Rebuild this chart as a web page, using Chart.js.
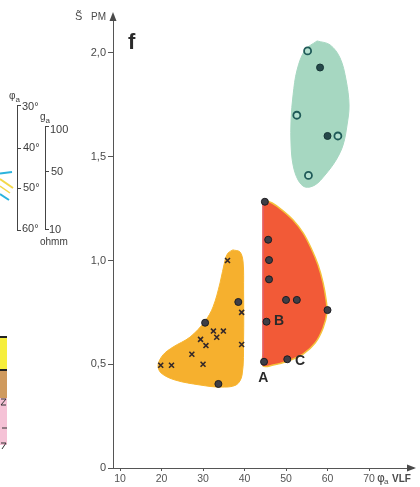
<!DOCTYPE html>
<html>
<head>
<meta charset="utf-8">
<script src="https://cdn.jsdelivr.net/npm/chart.js@4.4.1/dist/chart.umd.min.js"></script>
<style>
  html, body { margin: 0; padding: 0; background: #fff; }
  #wrap { position: relative; width: 420px; height: 487px; overflow: hidden;
          font-family: "Liberation Sans", Arial, sans-serif; color: #3c3c3c; }
  #wrap canvas { position: absolute; left: 0; top: 0; }
  .t { position: absolute; font-size: 11px; line-height: 11px; white-space: nowrap; }
  .t sub { font-size: 8px; vertical-align: -3px; }
  .br { position: absolute; width: 3px; border: 1px solid #444; border-right: none; }
  .tk { position: absolute; width: 3px; height: 0; border-top: 1px solid #444; }
  svg.side { position: absolute; left: 0; top: 0; }
</style>
</head>
<body>
<div id="wrap">
  <canvas id="chart" width="420" height="487"></canvas>

  <!-- bits of the neighbouring figure cut off on the left -->
  <svg class="side" width="60" height="487">
    <line x1="0" y1="173.5" x2="12" y2="172" stroke="#2bb3dd" stroke-width="2"/>
    <line x1="0" y1="179" x2="13" y2="188" stroke="#f3d84a" stroke-width="2"/>
    <line x1="0" y1="186" x2="10" y2="193" stroke="#f3d84a" stroke-width="1.5"/>
    <line x1="0" y1="194" x2="9" y2="200" stroke="#2bb3dd" stroke-width="2"/>
    <rect x="0" y="337" width="7" height="33" fill="#f6ee3c"/>
    <rect x="0" y="370" width="7" height="28" fill="#cf9a5e"/>
    <rect x="0" y="398" width="7" height="47" fill="#f5c2d6"/>
    <rect x="0" y="336" width="7" height="2" fill="#222"/>
    <rect x="0" y="369" width="7" height="2" fill="#222"/>
    <path d="M1 399 L6 399 L1 405 L6 405" stroke="#333" fill="none" stroke-width="1"/>
    <line x1="2" y1="428" x2="7" y2="428" stroke="#333" stroke-width="1"/>
    <path d="M1 443 L6 443 L2 449" stroke="#333" fill="none" stroke-width="1"/>
  </svg>
  <div class="t" style="left:9px; top:90px; font-size:10px;">φ<sub>a</sub></div>
  <div class="br" style="left:17px; top:105px; height:124px;"></div>
  <div class="tk" style="left:18px; top:148px;"></div>
  <div class="tk" style="left:18px; top:188px;"></div>
  <div class="t" style="left:22px; top:101px;">30°</div>
  <div class="t" style="left:23px; top:142px;">40°</div>
  <div class="t" style="left:23px; top:182px;">50°</div>
  <div class="t" style="left:22px; top:223px;">60°</div>
  <div class="t" style="left:40px; top:111px; font-size:10px;">g<sub>a</sub></div>
  <div class="br" style="left:45px; top:126px; height:102px;"></div>
  <div class="tk" style="left:46px; top:171px;"></div>
  <div class="t" style="left:50px; top:124px;">100</div>
  <div class="t" style="left:51px; top:166px;">50</div>
  <div class="t" style="left:49px; top:224px;">10</div>
  <div class="t" style="left:40px; top:236px; font-size:10px;">ohmm</div>
</div>

<script>
// axis ticks
const xTicks = [10, 20, 30, 40, 50, 60, 70];
const yTicks = [0, 0.5, 1.0, 1.5, 2.0];

// yellow field: crosses and dots
const yellowCrossX = [35.9, 39.3, 32.5, 34.9, 29.4, 33.3, 30.7, 39.3, 27.3, 19.8, 22.4, 30.0];
const yellowCrossY = [1.00, 0.75, 0.66, 0.66, 0.62, 0.63, 0.59, 0.595, 0.548, 0.495, 0.495, 0.50];
const yellowDotX = [38.5, 30.5, 33.7];
const yellowDotY = [0.80, 0.70, 0.405];

// red field
const redDotX = [44.9, 45.7, 45.9, 45.9, 50.0, 52.6, 60.0, 45.3, 44.7, 50.3];
const redDotY = [1.283, 1.10, 1.002, 0.909, 0.81, 0.81, 0.761, 0.705, 0.512, 0.524];

// green field
const greenOpenX = [55.2, 52.6, 62.5, 55.4];
const greenOpenY = [2.01, 1.70, 1.60, 1.41];
const greenFullX = [58.2, 60.0];
const greenFullY = [1.93, 1.60];

// outlines of the three fields
const yellowEdgeX = [37.2, 38.9, 39.65, 39.77, 39.77, 39.4, 37.96, 34.1, 29.28, 23.26, 19.88, 19.16, 20.36, 22.77, 26.87, 30.49, 32.41, 34.1, 35.31, 36.03];
const yellowEdgeY = [1.051, 1.041, 0.993, 0.858, 0.617, 0.448, 0.400, 0.390, 0.400, 0.424, 0.458, 0.496, 0.545, 0.583, 0.631, 0.708, 0.776, 0.892, 1.002, 1.036];
const redEdgeX = [44.47, 46.64, 49.05, 51.7, 54.11, 56.03, 57.72, 58.93, 59.65, 59.89, 58.93, 57.0, 54.11, 50.49, 46.88, 44.47, 44.47, 44.47, 44.47];
const redEdgeY = [1.296, 1.277, 1.243, 1.195, 1.133, 1.060, 0.978, 0.892, 0.810, 0.752, 0.675, 0.602, 0.549, 0.516, 0.496, 0.492, 0.56, 0.9, 1.25];
const greenEdgeX = [57.48, 60.61, 63.02, 64.47, 65.19, 64.71, 63.75, 62.06, 59.41, 57.0, 54.59, 52.9, 51.7, 51.21, 51.21, 51.7, 52.66, 54.59];
const greenEdgeY = [2.058, 2.039, 1.976, 1.870, 1.749, 1.653, 1.557, 1.484, 1.412, 1.364, 1.354, 1.388, 1.460, 1.557, 1.677, 1.798, 1.918, 2.014];

// point labels
const labelText = ['A', 'B', 'C'];
const labelX = [44.5, 48.3, 53.4];
const labelY = [0.434, 0.708, 0.516];

function pts(xs, ys) {
  return xs.map((x, i) => ({ x: x, y: ys[i] }));
}
function loop(xs, ys) {
  const p = pts(xs, ys);
  p.push(p[0]);
  return p;
}
// straight left side of the red field (bottom corner to top corner)
const redLeftSide = [15, 0].map(i => ({ x: redEdgeX[i], y: redEdgeY[i] }));

const decor = {
  id: 'decor',
  afterDraw(chart) {
    const { ctx, chartArea: a, scales: { x, y } } = chart;
    ctx.save();
    ctx.fillStyle = '#4a4a4a';
    // arrow heads
    ctx.beginPath();
    ctx.moveTo(a.left, a.top - 3);
    ctx.lineTo(a.left - 3.5, a.top + 6);
    ctx.lineTo(a.left + 3.5, a.top + 6);
    ctx.closePath();
    ctx.fill();
    ctx.beginPath();
    ctx.moveTo(a.right + 3, a.bottom);
    ctx.lineTo(a.right - 6, a.bottom - 3.5);
    ctx.lineTo(a.right - 6, a.bottom + 3.5);
    ctx.closePath();
    ctx.fill();

    // axis titles
    ctx.textBaseline = 'middle';
    ctx.textAlign = 'left';
    ctx.font = '11px "Liberation Sans"';
    ctx.fillText('S\u0303', a.left - 38, a.top + 2);
    ctx.font = '10px "Liberation Sans"';
    ctx.fillText('PM', a.left - 22, a.top + 2);

    const by = a.bottom + 11;
    ctx.font = '12px "DejaVu Sans"';
    ctx.fillText('φ', a.right - 36, by);
    ctx.font = '8px "Liberation Sans"';
    ctx.fillText('a', a.right - 29, by + 3);
    ctx.font = 'bold 10px "Liberation Sans"';
    ctx.fillText('VLF', a.right - 21, by);

    // panel letter
    ctx.fillStyle = '#2a2a2a';
    ctx.font = 'bold 22px "Liberation Sans"';
    ctx.textBaseline = 'alphabetic';
    ctx.fillText('f', a.left + 15, a.top + 34);

    // A, B, C
    ctx.font = 'bold 14px "Liberation Sans"';
    ctx.textAlign = 'center';
    ctx.textBaseline = 'middle';
    labelText.forEach((t, i) => {
      ctx.fillText(t, x.getPixelForValue(labelX[i]), y.getPixelForValue(labelY[i]));
    });
    ctx.restore();
  }
};

new Chart(document.getElementById('chart'), {
  type: 'scatter',
  data: {
    datasets: [
      {
        data: pts(yellowCrossX, yellowCrossY),
        pointStyle: 'crossRot', pointRadius: 3.5, borderColor: '#33282a', borderWidth: 1.6, order: 1
      },
      {
        data: pts(yellowDotX, yellowDotY).concat(pts(redDotX, redDotY)),
        pointStyle: 'circle', pointRadius: 3.5, backgroundColor: '#3e3e46', borderColor: '#1d1d22', borderWidth: 1, order: 1
      },
      {
        data: pts(greenOpenX, greenOpenY),
        pointStyle: 'circle', pointRadius: 3.5, backgroundColor: '#b4e0cf', borderColor: '#1f5a58', borderWidth: 1.8, order: 1
      },
      {
        data: pts(greenFullX, greenFullY),
        pointStyle: 'circle', pointRadius: 3.5, backgroundColor: '#26484a', borderColor: '#163636', borderWidth: 1, order: 1
      },
      {
        type: 'line', data: redLeftSide, order: 2,
        pointRadius: 0, fill: false, borderColor: '#e54a6a', borderWidth: 1.5
      },
      {
        type: 'line', data: loop(yellowEdgeX, yellowEdgeY), order: 3,
        pointRadius: 0, tension: 0.35, fill: 'shape',
        backgroundColor: '#f6b02e', borderColor: '#f7b52f', borderWidth: 1
      },
      {
        type: 'line', data: loop(redEdgeX, redEdgeY), order: 3,
        pointRadius: 0, tension: 0.35, fill: 'shape',
        backgroundColor: '#f25a37', borderColor: '#f5c23c', borderWidth: 1.5
      },
      {
        type: 'line', data: loop(greenEdgeX, greenEdgeY), order: 3,
        pointRadius: 0, tension: 0.35, fill: 'shape',
        backgroundColor: '#a6d7c1', borderColor: '#a6d7c1', borderWidth: 1
      }
    ]
  },
  options: {
    responsive: false,
    devicePixelRatio: 1,
    animation: false,
    layout: { padding: { left: 0, top: 15, right: 7, bottom: 0 } },
    plugins: { legend: { display: false }, tooltip: { enabled: false } },
    scales: {
      x: {
        type: 'linear', min: 8.3, max: 80.6,
        afterFit: s => { s.height = 19; },
        afterBuildTicks: s => { s.ticks = xTicks.map(v => ({ value: v })); },
        border: { color: '#555', width: 1 },
        grid: { drawOnChartArea: false, color: '#555', tickLength: 3 },
        ticks: {
          color: '#555', padding: 2, maxRotation: 0,
          font: { family: 'Liberation Sans', size: 10.5 },
          callback: v => String(v)
        }
      },
      y: {
        type: 'linear', min: 0, max: 2.183,
        afterFit: s => { s.width = 113; },
        afterBuildTicks: s => { s.ticks = yTicks.map(v => ({ value: v })); },
        border: { color: '#555', width: 1 },
        grid: { drawOnChartArea: false, color: '#555', tickLength: 5 },
        ticks: {
          color: '#4a4a4a', padding: 2,
          font: { family: 'Liberation Sans', size: 11 },
          callback: v => v === 0 ? '0' : v.toFixed(1).replace('.', ',')
        }
      }
    }
  },
  plugins: [decor]
});
</script>
</body>
</html>
